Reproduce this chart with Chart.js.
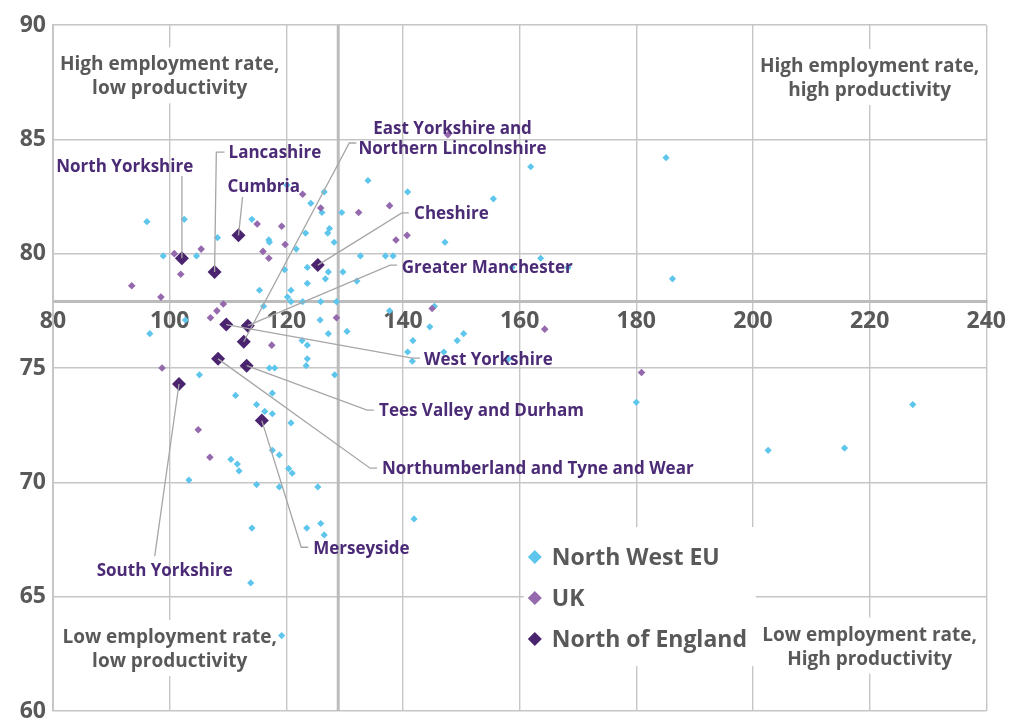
<!DOCTYPE html>
<html>
<head>
<meta charset="utf-8">
<script src="https://cdn.jsdelivr.net/npm/chart.js@4.4.0/dist/chart.umd.min.js"></script>
<style>
    html, body { margin: 0; padding: 0; background: #fff; }
    #wrap { width: 1012px; height: 720px; }
</style>
</head>
<body>
<div id="wrap"><canvas id="chartScatter" width="1012" height="720"></canvas></div>
<script>
// productivity (x) and employment rate (y)
const euX = [126.5, 124.2, 126.1, 96.1, 102.5, 114.1, 127.4, 123.3, 127.1, 108.2, 117.0, 117.1, 128.2, 121.7,
    98.9, 104.6, 119.7, 123.6, 127.2, 129.7, 126.7, 132.1, 123.6, 115.4, 120.8, 120.2, 120.8, 122.8, 125.9, 128.6,
    116.1, 102.7, 125.8, 96.6, 127.2, 130.4, 122.7, 123.6, 123.6, 123.4, 117.1, 118.0, 105.1, 128.3, 117.6, 111.3,
    114.9, 116.3, 117.6, 120.8, 117.6, 118.8, 110.5, 111.6, 111.9, 120.4, 121.0, 103.3, 114.9, 118.8, 125.4, 114.1,
    123.5, 125.9, 126.5, 113.9, 119.2, 120.1, 134.0, 140.8, 155.5, 161.9, 185.1, 129.5, 147.2, 132.7, 137.0, 138.3,
    163.6, 158.7, 168.3, 186.2, 145.4, 137.7, 144.6, 150.4, 149.3, 141.7, 140.8, 147.0, 141.6, 158.1, 180.0, 227.4,
    202.6, 215.7, 141.9];
const euY = [82.7, 82.2, 81.8, 81.4, 81.5, 81.5, 81.1, 80.9, 80.9, 80.7, 80.6, 80.5, 80.5, 80.2,
    79.9, 79.9, 79.3, 79.4, 79.2, 79.2, 78.9, 78.8, 78.7, 78.4, 78.4, 78.1, 77.9, 77.9, 77.9, 77.9,
    77.7, 77.1, 77.1, 76.5, 76.5, 76.6, 76.2, 76.0, 75.4, 75.1, 75.0, 75.0, 74.7, 74.7, 73.9, 73.8,
    73.4, 73.1, 73.0, 72.6, 71.4, 71.2, 71.0, 70.8, 70.5, 70.6, 70.4, 70.1, 69.9, 69.8, 69.8, 68.0,
    68.0, 68.2, 67.7, 65.6, 63.3, 83.0, 83.2, 82.7, 82.4, 83.8, 84.2, 81.8, 80.5, 79.9, 79.9, 79.9,
    79.8, 79.4, 79.4, 78.9, 77.7, 77.5, 76.8, 76.5, 76.2, 76.2, 75.7, 75.7, 75.3, 75.4, 73.5, 73.4,
    71.4, 71.5, 68.4];

const ukX = [122.8, 125.9, 115.0, 119.2, 119.8, 105.4, 100.8, 116.0, 117.0, 101.9, 93.5, 98.5, 109.2, 108.1,
    107.0, 117.5, 98.7, 104.9, 106.9, 147.7, 132.4, 137.7, 138.8, 140.7, 145.0, 128.6, 164.3, 180.9];
const ukY = [82.6, 82.0, 81.3, 81.2, 80.4, 80.2, 80.0, 80.1, 79.8, 79.1, 78.6, 78.1, 77.8, 77.5,
    77.2, 76.0, 75.0, 72.3, 71.1, 85.2, 81.8, 82.1, 80.6, 80.8, 77.6, 77.2, 76.7, 74.8];

const northRegions = ['North Yorkshire', 'Lancashire', 'Cumbria', 'East Yorkshire and Northern Lincolnshire',
    'Cheshire', 'Greater Manchester', 'West Yorkshire', 'Tees Valley and Durham',
    'Northumberland and Tyne and Wear', 'Merseyside', 'South Yorkshire'];
const northX = [102.1, 107.7, 111.8, 112.7, 125.4, 113.4, 109.7, 113.2, 108.3, 115.8, 101.6];
const northY = [79.8, 79.2, 80.8, 76.15, 79.5, 76.85, 76.9, 75.1, 75.4, 72.7, 74.3];

const seriesNames = ['North West EU', 'UK', 'North of England'];
const xTicks = [80, 100, 120, 140, 160, 180, 200, 220, 240];
const yTicks = [60, 65, 70, 75, 80, 85, 90];
const ukAverageX = 128.9;
const euAverageY = 77.9;

const GREY_TEXT = '#595959';
const PURPLE_TEXT = '#4b2a76';
const FONT = '"Open Sans", Lato, sans-serif';

// where the text goes (value coordinates), kept apart from the data
const regionLabels = [
    { lines: ['North Yorkshire'], x: 92.3, y: 83.83, align: 'center', leader: [[102.1, 83.4]] },
    { lines: ['Lancashire'], x: 110.1, y: 84.44, align: 'left', leader: [[109.4, 84.44], [108.0, 84.44]] },
    { lines: ['Cumbria'], x: 109.9, y: 82.96, align: 'left', leader: [[112.5, 82.48]] },
    { lines: ['East Yorkshire and', 'Northern Lincolnshire'], x: 148.5, y: 85.06, align: 'center', leader: [[132.0, 84.84], [130.8, 84.84]] },
    { lines: ['Cheshire'], x: 141.9, y: 81.78, align: 'left', leader: [[141.0, 81.78], [139.8, 81.78]] },
    { lines: ['Greater Manchester'], x: 139.8, y: 79.45, align: 'left', leader: [[139.0, 79.5], [137.8, 79.5]] },
    { lines: ['West Yorkshire'], x: 143.6, y: 75.39, align: 'left', leader: [[142.9, 75.43], [141.6, 75.43]] },
    { lines: ['Tees Valley and Durham'], x: 135.9, y: 73.16, align: 'left', leader: [[135.0, 73.16], [133.85, 73.16]] },
    { lines: ['Northumberland and Tyne and Wear'], x: 136.4, y: 70.62, align: 'left', leader: [[135.56, 70.62], [134.36, 70.62]] },
    { lines: ['Merseyside'], x: 124.6, y: 67.16, align: 'left', leader: [[123.76, 67.16], [122.56, 67.16]] },
    { lines: ['South Yorkshire'], x: 99.15, y: 66.2, align: 'center', leader: [[97.44, 66.77]] }
];

const quadrantLabels = [
    { lines: ['High employment rate,', 'low productivity'], x: 100, y: 87.8 },
    { lines: ['High employment rate,', 'high productivity'], x: 220, y: 87.73 },
    { lines: ['Low employment rate,', 'low productivity'], x: 100, y: 62.75 },
    { lines: ['Low employment rate,', 'High productivity'], x: 220, y: 62.86 }
];

const puntos = (xs, ys) => xs.map((x, i) => ({ x: x, y: ys[i] }));

const annotationsPlugin = {
    id: 'annotations',
    beforeDatasetsDraw(chart) {
        const { ctx, chartArea, scales: { x, y } } = chart;
        const px = x.getPixelForValue(ukAverageX);
        ctx.save();
        ctx.strokeStyle = '#bcbcbc';
        ctx.lineWidth = 3;
        ctx.beginPath();
        ctx.moveTo(px, chartArea.top);
        ctx.lineTo(px, chartArea.bottom);
        ctx.stroke();

        // quadrant labels sit on white boxes
        ctx.font = `bold 19px ${FONT}`;
        ctx.textAlign = 'center';
        ctx.textBaseline = 'middle';
        quadrantLabels.forEach(q => {
            const cx = x.getPixelForValue(q.x);
            const cy = y.getPixelForValue(q.y);
            const w = Math.max(...q.lines.map(l => ctx.measureText(l).width)) + 8;
            const lh = 24;
            const h = lh * q.lines.length + 8;
            ctx.fillStyle = '#fff';
            ctx.fillRect(cx - w / 2, cy - h / 2, w, h);
            ctx.fillStyle = GREY_TEXT;
            q.lines.forEach((l, i) => ctx.fillText(l, cx, cy + 1.5 - lh * (q.lines.length - 1) / 2 + i * lh));
        });
        ctx.restore();
    },
    afterDatasetsDraw(chart) {
        const { ctx, scales: { x, y } } = chart;
        ctx.save();

        // leader lines
        ctx.strokeStyle = '#a6a6a6';
        ctx.lineWidth = 1.3;
        regionLabels.forEach((r, i) => {
            ctx.beginPath();
            r.leader.forEach((p, j) => {
                const fx = x.getPixelForValue(p[0]);
                const fy = y.getPixelForValue(p[1]);
                if (j === 0) ctx.moveTo(fx, fy); else ctx.lineTo(fx, fy);
            });
            ctx.lineTo(x.getPixelForValue(northX[i]), y.getPixelForValue(northY[i]));
            ctx.stroke();
        });

        // region names
        ctx.font = `bold 17px ${FONT}`;
        ctx.fillStyle = PURPLE_TEXT;
        ctx.textBaseline = 'middle';
        regionLabels.forEach(r => {
            ctx.textAlign = r.align;
            const tx = x.getPixelForValue(r.x);
            const ty = y.getPixelForValue(r.y) + 1.5;
            const lh = 20;
            r.lines.forEach((l, i) => ctx.fillText(l, tx, ty - lh * (r.lines.length - 1) / 2 + i * lh));
        });

        // legend
        const lx = x.getPixelForValue(160.2);
        const ly = y.getPixelForValue(66.73);
        ctx.fillStyle = '#fff';
        ctx.fillRect(lx + 3, ly - 30, 232, 139);
        ctx.font = `bold 23px ${FONT}`;
        ctx.textAlign = 'left';
        chart.data.datasets.forEach((ds, i) => {
            const rowY = ly + i * 41;
            const r = 7;
            const cx = lx + 14;
            ctx.fillStyle = ds.backgroundColor;
            ctx.beginPath();
            ctx.moveTo(cx, rowY - r);
            ctx.lineTo(cx + r, rowY);
            ctx.lineTo(cx, rowY + r);
            ctx.lineTo(cx - r, rowY);
            ctx.closePath();
            ctx.fill();
            ctx.fillStyle = GREY_TEXT;
            ctx.fillText(ds.label, lx + 31, rowY + 1);
        });
        ctx.restore();
    }
};

document.addEventListener('DOMContentLoaded', () => {
    const ctx = document.getElementById('chartScatter').getContext('2d');

    new Chart(ctx, {
        type: 'scatter',
        data: {
            datasets: [
                {
                    label: seriesNames[0],
                    data: puntos(euX, euY),
                    backgroundColor: '#5ec6ec',
                    borderColor: '#5ec6ec',
                    pointStyle: 'rectRot',
                    pointRadius: 3.6,
                    pointHoverRadius: 3.6,
                    borderWidth: 0,
                    order: 3
                },
                {
                    label: seriesNames[1],
                    data: puntos(ukX, ukY),
                    backgroundColor: '#9569ad',
                    borderColor: '#9569ad',
                    pointStyle: 'rectRot',
                    pointRadius: 3.8,
                    pointHoverRadius: 3.8,
                    borderWidth: 0,
                    order: 2
                },
                {
                    label: seriesNames[2],
                    data: puntos(northX, northY),
                    backgroundColor: '#4b2470',
                    borderColor: '#4b2470',
                    pointStyle: 'rectRot',
                    pointRadius: 7,
                    pointHoverRadius: 7,
                    borderWidth: 0,
                    order: 1
                }
            ]
        },
        options: {
            responsive: false,
            animation: false,
            events: [],
            layout: { padding: { top: 25, right: 23, bottom: 9, left: 0 } },
            scales: {
                x: {
                    type: 'linear',
                    position: { y: euAverageY },
                    min: 80,
                    max: 240,
                    afterBuildTicks: s => { s.ticks = xTicks.map(v => ({ value: v })); },
                    grid: { color: '#c6c6c6', lineWidth: 1.4, drawTicks: false },
                    border: { color: '#bcbcbc', width: 3 },
                    ticks: { color: GREY_TEXT, font: { family: FONT, size: 23, weight: 'bold' }, padding: 6 }
                },
                y: {
                    min: 60,
                    max: 90,
                    afterBuildTicks: s => { s.ticks = yTicks.map(v => ({ value: v })); },
                    afterFit: s => { s.width = 53; s.paddingTop = 0; s.paddingBottom = 0; },
                    grid: { color: '#c6c6c6', lineWidth: 1.4, drawTicks: false },
                    border: { color: '#c6c6c6', width: 2 },
                    ticks: { color: GREY_TEXT, font: { family: FONT, size: 23, weight: 'bold' }, padding: 7 }
                }
            },
            plugins: {
                legend: { display: false },
                tooltip: { enabled: false }
            }
        },
        plugins: [annotationsPlugin]
    });
});
</script>
</body>
</html>
